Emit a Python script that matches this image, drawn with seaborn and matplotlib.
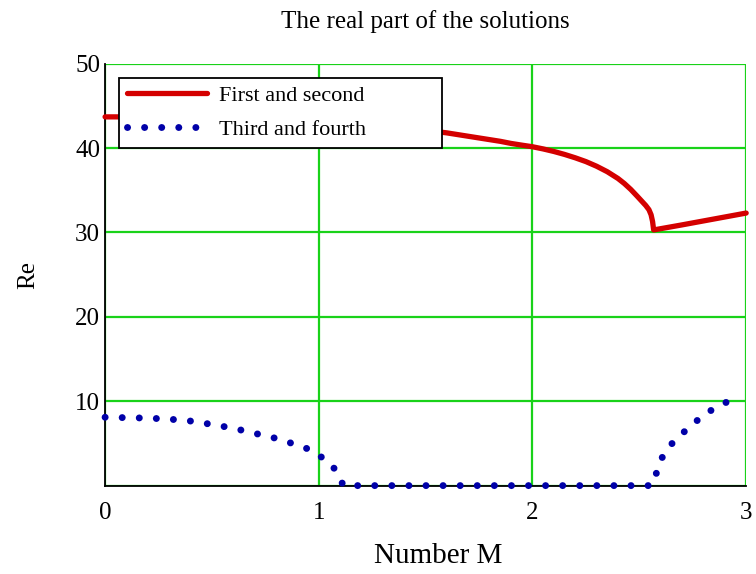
import matplotlib
matplotlib.use('Agg')
import matplotlib.pyplot as plt
import seaborn as sns
import pandas as pd

m_first = [0.0, 0.2, 0.4, 0.6, 0.8, 1.0, 1.2, 1.4, 1.6, 1.8, 1.85, 1.9, 1.95, 2.0, 2.05,
           2.1, 2.15, 2.2, 2.25, 2.3, 2.35, 2.4, 2.43, 2.46, 2.49, 2.51, 2.53, 2.545,
           2.555, 2.562, 2.567, 2.7, 2.85, 3.0]
re_first = [43.7, 43.7, 43.68, 43.62, 43.49, 43.27, 42.93, 42.44, 41.8, 41.0, 40.8, 40.55,
            40.35, 40.16, 39.9, 39.6, 39.25, 38.85, 38.4, 37.85, 37.2, 36.4, 35.8, 35.1,
            34.3, 33.75, 33.2, 32.7, 32.1, 31.3, 30.3, 30.9, 31.6, 32.3]

m_third = [0.0, 0.2, 0.3, 0.4, 0.5, 0.6, 0.7, 0.8, 0.9, 0.96, 1.0, 1.05, 1.08, 1.1, 1.115,
           1.5, 2.0, 2.56, 2.57, 2.59, 2.625, 2.675, 2.72, 2.77, 2.82, 2.88, 2.945]
re_third = [8.1, 8.0, 7.88, 7.65, 7.25, 6.8, 6.2, 5.6, 4.8, 4.25, 3.6, 2.7, 1.8, 0.8, 0.0,
            0.0, 0.0, 0.0, 0.5, 2.5, 4.2, 5.6, 6.6, 7.7, 8.7, 9.5, 10.4]

x_ticks = [0, 1, 2, 3]
y_ticks = [0, 10, 20, 30, 40, 50]
y_tick_labels = ['', '10', '20', '30', '40', '50']

first = pd.DataFrame({'M': m_first, 'Re': re_first})
third = pd.DataFrame({'M': m_third, 'Re': re_third})

sns.set_style('white')
plt.rcParams['font.family'] = ['Liberation Serif', 'DejaVu Serif']
plt.rcParams['text.color'] = 'black'
plt.rcParams['axes.labelcolor'] = 'black'
plt.rcParams['xtick.color'] = 'black'
plt.rcParams['ytick.color'] = 'black'

fig = plt.figure(figsize=(7.56, 5.74), dpi=100)
ax = fig.add_axes([0.139, 0.154, 0.848, 0.735])

sns.lineplot(data=first, x='M', y='Re', ax=ax, color='#d40000', linewidth=3.8,
             sort=False, estimator=None, label='First and second', clip_on=False, zorder=3)
sns.lineplot(data=third, x='M', y='Re', ax=ax, color='#0000a8', linewidth=5.0,
             linestyle=(0, (0.01, 2.45)), dash_capstyle='round',
             sort=False, estimator=None, label='Third and fourth', clip_on=False, zorder=3)

ax.set_xlim(0, 3)
ax.set_ylim(0, 50)
ax.set_xticks(x_ticks)
ax.set_yticks(y_ticks)
ax.set_yticklabels(y_tick_labels)
ax.grid(True, color='#19d219', linewidth=1.6)
ax.set_axisbelow(True)

for side in ['top', 'right']:
    ax.spines[side].set_visible(False)
for side in ['left', 'bottom']:
    ax.spines[side].set_color('black')
    ax.spines[side].set_linewidth(1.3)
    ax.spines[side].set_zorder(2.5)

ax.tick_params(axis='both', direction='inout', length=5, width=1.1, color='black',
               labelsize=18)
ax.tick_params(axis='x', pad=9)
ax.tick_params(axis='y', pad=1)

ax.set_title('The real part of the solutions', fontsize=18, pad=26)
ax.set_xlabel('Number M', fontsize=21, labelpad=10)
ax.xaxis.set_label_coords(0.52, -0.135)
ax.set_ylabel('Re', fontsize=18, labelpad=26)

leg = ax.legend(loc='upper left', bbox_to_anchor=(0.022, 0.967, 0.504, 0), mode='expand',
                borderaxespad=0, fontsize=16, handlelength=3.6, handletextpad=0.55,
                borderpad=0.35, labelspacing=0.6, fancybox=False, framealpha=1,
                edgecolor='black')
leg.get_frame().set_linewidth(1.3)

fig.savefig('out.png', dpi=100)
